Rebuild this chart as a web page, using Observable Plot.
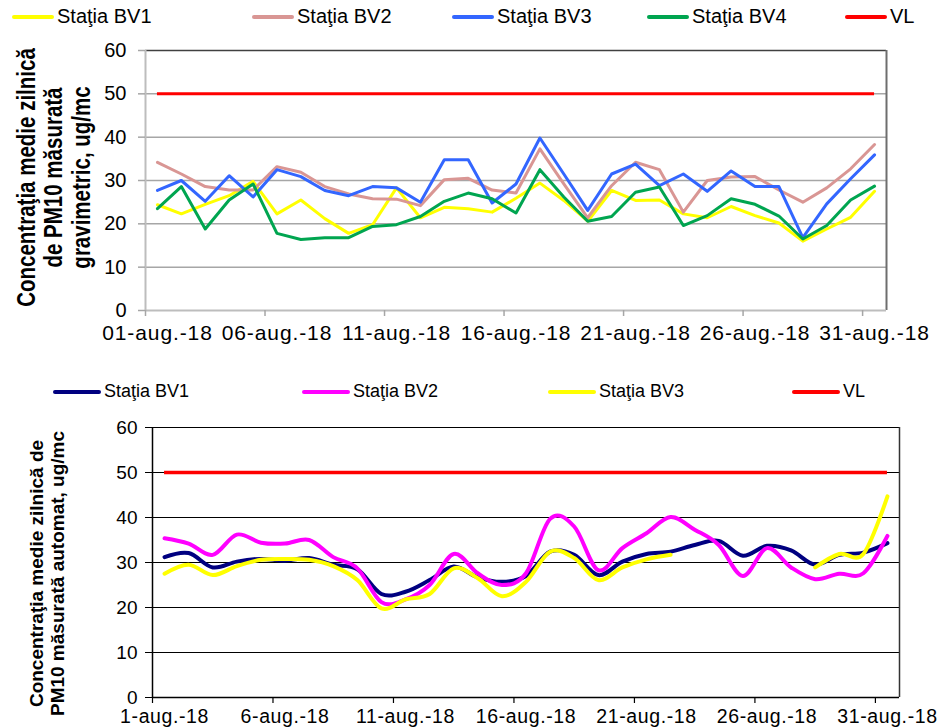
<!DOCTYPE html>
<html>
<head>
<meta charset="utf-8">
<script src="https://cdn.jsdelivr.net/npm/d3@7"></script>
<script src="https://cdn.jsdelivr.net/npm/@observablehq/plot@0.6"></script>
<style>
  body { margin: 0; background: #fff; }
  #wrap { position: relative; width: 942px; height: 728px; overflow: hidden; background: #fff;
          font-family: "Liberation Sans", Arial, sans-serif; }
  .chart { position: absolute; left: 0; }
  .item { position: absolute; display: flex; align-items: center; color: #000; white-space: nowrap; }
  .sw { display: inline-block; height: 4px; margin-right: 3px; border-radius: 2px; }
</style>
</head>
<body>
<div id="wrap"></div>
<script>
// ---------- data ----------
const days = [1,2,3,4,5,6,7,8,9,10,11,12,13,14,15,16,17,18,19,20,21,22,23,24,25,26,27,28,29,30,31];
const labelDays = [1,6,11,16,21,26,31];
const topTickLabels = ["01-aug.-18","06-aug.-18","11-aug.-18","16-aug.-18","21-aug.-18","26-aug.-18","31-aug.-18"];
const bottomTickLabels = ["1-aug.-18","6-aug.-18","11-aug.-18","16-aug.-18","21-aug.-18","26-aug.-18","31-aug.-18"];
const yTicks = [0,10,20,30,40,50,60];

// top chart (gravimetric)
const topNames = ["Staţia BV1","Staţia BV2","Staţia BV3","Staţia BV4","VL"];
const topBV1 = [24.4,22.3,24.5,26.5,29.8,22.3,25.5,21.2,17.8,19.8,28.3,21.4,23.8,23.5,22.7,25.9,29.4,25.4,20.6,27.7,25.4,25.5,22.3,21.4,24.0,21.9,20.2,16.0,18.8,21.5,27.5];
const topBV2 = [34.2,31.5,28.6,27.8,27.8,33.2,31.9,28.6,26.9,25.8,25.7,24.2,30.2,30.5,27.8,27.1,37.3,29.2,21.4,28.8,34.2,32.5,22.7,30.0,30.8,30.9,27.8,25.0,28.3,32.7,38.3];
const topBV3 = [27.7,30.0,25.2,31.1,26.2,32.5,30.9,27.7,26.5,28.6,28.3,25.0,34.8,34.8,24.8,29.2,39.8,31.5,23.1,31.5,33.8,28.8,31.5,27.5,32.2,28.6,28.6,16.8,24.6,30.4,35.9];
const topBV4 = [23.5,28.6,18.8,25.5,29.2,17.8,16.4,16.8,16.8,19.4,19.8,21.7,25.2,27.1,25.8,22.5,32.5,26.2,20.6,21.7,27.3,28.5,19.6,21.9,25.8,24.5,21.8,16.5,19.6,25.5,28.7];
const topColors = ["#FFFF00","#D99694","#3366FF","#00A550","#FF0000"];
const topTitle = "Concentraţia medie zilnică\nde PM10 măsurată\ngravimetric, ug/mc";

// bottom chart (automatic)
const botNames = ["Staţia BV1","Staţia BV2","Staţia BV3","VL"];
const botBV1 = [31.2,32.1,28.9,30.2,30.8,30.4,31.0,29.5,28.5,23.0,23.5,26.1,29.1,26.7,25.7,27.0,32.4,31.7,27.2,30.2,31.9,32.4,33.9,34.8,31.5,33.7,32.7,29.5,31.7,32.2,34.3];
const botBV2 = [35.4,34.2,31.7,36.2,34.4,34.2,35.0,31.2,28.7,21.2,21.8,25.0,31.9,27.6,25.0,27.6,39.7,38.0,28.3,33.2,36.5,40.1,37.3,33.9,27.0,33.2,28.9,26.3,27.5,27.6,35.9];
const botBV3 = [27.5,29.5,27.2,29.2,30.6,30.8,30.6,29.2,26.1,19.8,21.8,23.0,28.7,26.5,22.5,25.7,32.4,31.0,26.1,28.9,30.7,31.7,null,null,null,null,null,28.9,31.9,31.9,44.7];
const botColors = ["#000080","#FF00FF","#FFFF00","#FF0000"];
const botTitle = "Concentraţia medie zilnică de\nPM10 măsurată automat, ug/mc";

const vlValue = 50;

// ---------- helpers ----------
const rows = arr => days.map((d, i) => ({day: d, v: arr[i]}));
const bandEdges = labelDays.map(d => d - 0.5);
const fontFam = "'Liberation Sans', Arial, sans-serif";

const wrap = document.getElementById("wrap");

// ---------- top chart ----------
const chartTop = Plot.plot({
  width: 942, height: 350,
  marginLeft: 145, marginRight: 56, marginTop: 50, marginBottom: 40,
  style: {fontFamily: fontFam, background: "transparent", overflow: "visible"},
  x: {type: "linear", domain: [0.5, 31.5]},
  y: {domain: [0, 60]},
  marks: [
    Plot.ruleY([10,20,30,40,50], {stroke: "#a6a6a6", strokeWidth: 1.5}),
    Plot.ruleY([60], {stroke: "#404040", strokeWidth: 1.5}),
    Plot.ruleX([31.5], {stroke: "#6e6e6e", strokeWidth: 2}),
    Plot.ruleX([0.5], {stroke: "#bdbdbd", strokeWidth: 2}),
    Plot.ruleY([0], {stroke: "#bdbdbd", strokeWidth: 2}),
    Plot.axisY(yTicks, {tickSize: 7, tickPadding: 12, fontSize: 20, stroke: "#a6a6a6", fill: "#000", strokeWidth: 1.5, label: null}),
    Plot.axisX(bandEdges, {tickSize: 6, tickFormat: () => "", stroke: "#a6a6a6", strokeWidth: 1.5, label: null}),
    Plot.axisX(labelDays, {tickSize: 0, tickPadding: 15, fontSize: 21, fill: "#000", label: null,
      tickFormat: d => topTickLabels[labelDays.indexOf(d)]}),
    Plot.lineY(rows(topBV1), {x: "day", y: "v", stroke: topColors[0], strokeWidth: 3}),
    Plot.lineY(rows(topBV2), {x: "day", y: "v", stroke: topColors[1], strokeWidth: 3}),
    Plot.lineY(rows(topBV3), {x: "day", y: "v", stroke: topColors[2], strokeWidth: 3}),
    Plot.lineY(rows(topBV4), {x: "day", y: "v", stroke: topColors[3], strokeWidth: 3}),
    Plot.ruleY([vlValue], {x1: days[0], x2: days[days.length - 1], stroke: topColors[4], strokeWidth: 3}),
    Plot.text([topTitle], {frameAnchor: "left", dx: -92, dy: -3, rotate: -90, textAnchor: "middle", lineAnchor: "middle",
      lineHeight: 1.1, fontSize: 25, fontWeight: "bold", fill: "#000"})
  ]
});
chartTop.classList.add("chart");
chartTop.style.top = "0px";
wrap.appendChild(chartTop);

// ---------- bottom chart ----------
const chartBot = Plot.plot({
  width: 942, height: 328,
  marginLeft: 152, marginRight: 43, marginTop: 27, marginBottom: 31,
  style: {fontFamily: fontFam, background: "transparent", overflow: "visible"},
  x: {type: "linear", domain: [0.5, 31.5]},
  y: {domain: [0, 60]},
  marks: [
    Plot.ruleY([10,20,30,40,50,60], {stroke: "#000", strokeWidth: 1.2}),
    Plot.ruleX([31.5], {stroke: "#333", strokeWidth: 1.5}),
    Plot.ruleX([0.5], {stroke: "#000", strokeWidth: 1.5}),
    Plot.ruleY([0], {stroke: "#000", strokeWidth: 1.5}),
    Plot.axisY(yTicks, {tickSize: 7, tickPadding: 8, fontSize: 19, stroke: "#000", fill: "#000", label: null}),
    Plot.axisX(bandEdges, {tickSize: 6, tickFormat: () => "", stroke: "#000", strokeWidth: 1.2, label: null}),
    Plot.axisX(labelDays, {tickSize: 0, tickPadding: 12, fontSize: 19.5, fill: "#000", label: null,
      tickFormat: d => bottomTickLabels[labelDays.indexOf(d)]}),
    Plot.lineY(rows(botBV1), {x: "day", y: "v", stroke: botColors[0], strokeWidth: 4, curve: "cardinal"}),
    Plot.lineY(rows(botBV2), {x: "day", y: "v", stroke: botColors[1], strokeWidth: 4, curve: "cardinal"}),
    Plot.lineY(rows(botBV3), {x: "day", y: "v", stroke: botColors[2], strokeWidth: 4, curve: "cardinal"}),
    Plot.ruleY([vlValue], {x1: days[0], x2: days[days.length - 1], stroke: botColors[3], strokeWidth: 3.5}),
    Plot.text([botTitle], {frameAnchor: "left", dx: -106, dy: 11, rotate: -90, textAnchor: "middle", lineAnchor: "middle",
      lineHeight: 1.1, fontSize: 19, fontWeight: "bold", fill: "#000"})
  ]
});
chartBot.classList.add("chart");
chartBot.style.top = "400px";
wrap.appendChild(chartBot);

// widen the date labels slightly (the reference's labels are wide), condense the top title
d3.select(chartTop).selectAll('g[aria-label="x-axis tick label"] text').style("letter-spacing", "0.9px");
d3.select(chartBot).selectAll('g[aria-label="x-axis tick label"] text').style("letter-spacing", "0.6px");
d3.select(chartTop).selectAll('g[aria-label="text"] text').each(function() {
  const t = this.getAttribute("transform") || "";
  this.setAttribute("transform", t + " scale(0.82,1)");
});

// ---------- legends ----------
function legend(names, colors, lefts, topPx, fontPx, swW) {
  names.forEach((n, i) => {
    const it = document.createElement("div");
    it.className = "item";
    it.style.left = lefts[i] + "px";
    it.style.top = topPx + "px";
    it.style.fontSize = fontPx + "px";
    const sw = document.createElement("span");
    sw.className = "sw";
    sw.style.width = swW + "px";
    sw.style.background = colors[i];
    const tx = document.createElement("span");
    tx.textContent = n;
    it.appendChild(sw); it.appendChild(tx);
    wrap.appendChild(it);
  });
}
legend(topNames, topColors, [12, 252, 452, 647, 845], 5, 20, 42);
legend(botNames, botColors, [53, 302, 548, 792], 381, 18, 48);
</script>
</body>
</html>
